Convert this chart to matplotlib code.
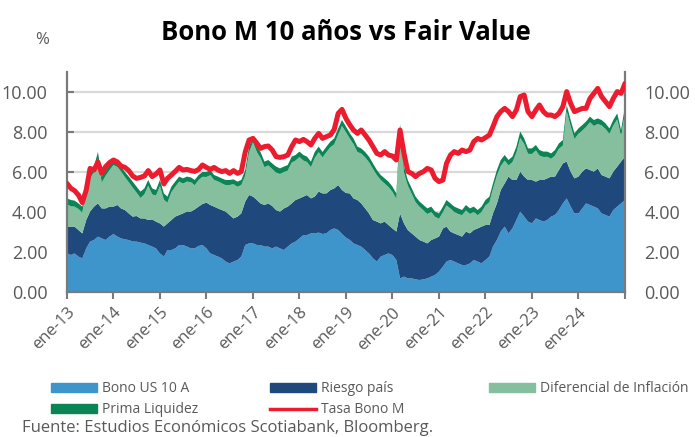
import numpy as np
import pandas as pd
import matplotlib
matplotlib.use("Agg")
import matplotlib.pyplot as plt
from matplotlib.patches import Patch
from matplotlib.lines import Line2D
from matplotlib.transforms import ScaledTranslation

plt.rcParams['font.family'] = ['Open Sans', 'DejaVu Sans']

# ---------------- data (monthly) ----------------
fechas = pd.date_range('2013-01-01', periods=145, freq='MS')

# top of light-blue area = Bono US 10 A
bono_us_10a = [
    1.93, 1.85, 1.93, 1.77, 1.68, 2.18, 2.52, 2.60, 2.77, 2.68, 2.60, 2.77, 2.90,
    2.77, 2.68, 2.63, 2.60, 2.52, 2.52, 2.47, 2.43, 2.35, 2.27, 2.18, 1.93,
    1.77, 2.10, 2.10, 2.18, 2.35, 2.35, 2.27, 2.18, 2.18, 2.30, 2.35, 2.18,
    1.93, 1.85, 1.77, 1.68, 1.52, 1.43, 1.52, 1.60, 1.77, 2.35, 2.43, 2.43,
    2.35, 2.35, 2.27, 2.27, 2.18, 2.27, 2.18, 2.10, 2.27, 2.43, 2.52, 2.68,
    2.85, 2.85, 2.93, 2.93, 2.97, 2.90, 2.93, 3.10, 3.18, 3.10, 2.90, 2.72,
    2.60, 2.43, 2.35, 2.27, 2.10, 1.93, 1.68, 1.52, 1.77, 1.85, 1.93, 1.85,
    1.60, 0.68, 0.77, 0.68, 0.68, 0.63, 0.60, 0.63, 0.68, 0.77, 0.85, 1.02,
    1.27, 1.52, 1.60, 1.52, 1.43, 1.35, 1.35, 1.43, 1.60, 1.52, 1.43, 1.60,
    1.77, 2.27, 2.60, 3.02, 3.27, 2.93, 3.18, 3.60, 4.02, 3.77, 3.52, 3.43,
    3.68, 3.60, 3.52, 3.60, 3.77, 3.85, 4.10, 4.43, 4.68, 4.27, 3.93, 3.93,
    4.18, 4.43, 4.35, 4.27, 4.18, 3.93, 3.85, 3.77, 4.10, 4.27, 4.43, 4.60,
]

# top of navy area = Bono US + Riesgo país
tope_riesgo_pais = [
    3.27, 3.27, 3.27, 3.10, 2.93, 3.60, 4.02, 4.27, 4.43, 4.18, 4.18, 4.27, 4.27,
    4.35, 4.18, 4.10, 3.93, 3.77, 3.80, 3.68, 3.68, 3.60, 3.63, 3.52, 3.43,
    3.27, 3.43, 3.60, 3.77, 3.85, 3.93, 4.02, 4.02, 4.13, 4.27, 4.40, 4.47,
    4.35, 4.27, 4.18, 4.10, 4.02, 3.85, 3.68, 3.77, 3.93, 4.52, 4.85, 4.77,
    4.60, 4.43, 4.35, 4.43, 4.30, 4.10, 4.02, 4.18, 4.27, 4.43, 4.60, 4.68,
    4.77, 4.85, 4.68, 4.77, 5.02, 4.93, 4.93, 5.10, 5.18, 5.35, 5.10, 4.95,
    4.93, 4.68, 4.60, 4.43, 4.18, 3.93, 3.60, 3.52, 3.43, 3.52, 3.35, 3.18,
    3.02, 3.93, 3.43, 3.10, 2.93, 2.77, 2.60, 2.52, 2.43, 2.60, 2.68, 2.77,
    3.18, 3.27, 3.02, 2.93, 2.85, 2.77, 3.02, 2.93, 3.10, 3.18, 3.27, 3.35,
    3.35, 3.93, 4.43, 5.10, 5.43, 5.77, 5.60, 5.60, 6.02, 5.77, 5.60, 5.60,
    5.52, 5.60, 5.60, 5.68, 5.77, 5.77, 6.10, 6.43, 6.52, 6.02, 5.68, 5.77,
    6.02, 6.18, 6.10, 6.02, 6.18, 5.85, 5.77, 5.68, 6.02, 6.27, 6.52, 6.77,
]

# top of the whole stack (incl. Prima Liquidez)
tope_total = [
    4.68, 4.60, 4.57, 4.43, 4.27, 5.43, 6.00, 6.27, 7.00, 5.77, 6.10, 6.35, 6.60,
    6.50, 6.27, 6.00, 5.77, 5.52, 5.27, 5.02, 5.18, 5.60, 5.18, 5.10, 5.60,
    4.93, 4.77, 5.27, 5.52, 5.77, 5.68, 5.77, 5.73, 5.60, 5.85, 6.00, 6.00,
    6.10, 5.85, 5.77, 5.68, 5.60, 5.60, 5.63, 5.52, 5.60, 6.10, 7.27, 7.77,
    7.27, 7.00, 6.52, 6.60, 6.43, 6.27, 6.18, 6.27, 6.35, 6.77, 6.85, 7.02,
    6.85, 6.77, 6.52, 7.00, 7.27, 7.00, 7.27, 7.52, 7.68, 8.18, 8.60, 8.27,
    7.93, 7.68, 7.27, 7.18, 7.00, 6.77, 6.43, 6.10, 5.85, 5.68, 5.52, 5.27,
    4.93, 8.40, 6.27, 5.60, 5.18, 4.77, 4.52, 4.35, 4.18, 4.27, 4.02, 3.93,
    4.27, 4.60, 4.43, 4.27, 4.18, 4.10, 4.35, 4.18, 4.27, 4.10, 4.27, 4.60,
    4.77, 5.43, 6.10, 6.60, 6.85, 6.60, 6.77, 7.27, 8.02, 7.68, 7.18, 7.18,
    7.35, 7.10, 7.02, 7.02, 6.93, 7.10, 7.43, 7.60, 9.35, 8.60, 7.93, 8.18,
    8.35, 8.52, 8.77, 8.60, 8.68, 8.60, 8.43, 8.18, 8.60, 8.93, 8.10, 9.27,
]

prima_liquidez = [
    0.30, 0.32, 0.30, 0.28, 0.30, 0.35, 0.30, 0.28, 0.35, 0.30, 0.28, 0.26, 0.25,
    0.25, 0.24, 0.26, 0.28, 0.30, 0.30, 0.32, 0.30, 0.28, 0.30, 0.28, 0.30,
    0.32, 0.30, 0.28, 0.26, 0.25, 0.26, 0.25, 0.24, 0.26, 0.25, 0.24, 0.25,
    0.26, 0.25, 0.24, 0.25, 0.26, 0.25, 0.24, 0.26, 0.25, 0.28, 0.30, 0.28,
    0.28, 0.30, 0.28, 0.27, 0.28, 0.30, 0.28, 0.27, 0.28, 0.30, 0.28, 0.27,
    0.28, 0.27, 0.28, 0.30, 0.28, 0.27, 0.28, 0.28, 0.30, 0.32, 0.30, 0.28,
    0.27, 0.28, 0.27, 0.26, 0.27, 0.28, 0.27, 0.26, 0.25, 0.26, 0.27, 0.26,
    0.27, 0.35, 0.30, 0.28, 0.27, 0.28, 0.26, 0.27, 0.28, 0.27, 0.26, 0.27,
    0.28, 0.27, 0.26, 0.27, 0.28, 0.26, 0.27, 0.28, 0.27, 0.26, 0.27, 0.28,
    0.28, 0.27, 0.28, 0.30, 0.28, 0.27, 0.28, 0.30, 0.32, 0.28, 0.27, 0.28,
    0.27, 0.28, 0.27, 0.26, 0.27, 0.28, 0.27, 0.28, 0.32, 0.30, 0.28, 0.27,
    0.28, 0.27, 0.28, 0.30, 0.28, 0.27, 0.28, 0.27, 0.28, 0.30, 0.28, 0.30,
]

tasa_bono_m = [
    5.43, 5.18, 5.07, 4.85, 4.47, 5.10, 6.18, 6.10, 6.50, 5.93, 6.27, 6.47, 6.60,
    6.50, 6.30, 6.23, 6.07, 5.80, 5.68, 5.73, 5.80, 6.07, 5.77, 5.90, 6.10,
    5.40, 5.68, 5.85, 6.03, 6.23, 6.10, 6.13, 6.07, 6.03, 6.13, 6.35, 6.23,
    6.13, 6.23, 6.10, 6.02, 6.07, 5.93, 6.07, 5.93, 6.02, 7.00, 7.60, 7.68,
    7.43, 7.18, 7.27, 7.30, 7.10, 6.77, 6.73, 6.77, 6.85, 7.27, 7.60, 7.52,
    7.63, 7.52, 7.35, 7.68, 7.93, 7.68, 7.77, 7.85, 8.13, 8.93, 9.13, 8.68,
    8.35, 8.10, 7.93, 8.10, 7.85, 7.60, 7.27, 6.93, 6.85, 7.02, 6.85, 6.80,
    6.60, 8.10, 6.93, 6.02, 5.93, 5.77, 5.93, 6.02, 6.18, 6.10, 5.68, 5.52,
    5.60, 6.43, 6.85, 7.02, 6.93, 7.10, 7.02, 7.10, 7.52, 7.68, 7.60, 7.72,
    7.85, 8.27, 8.77, 9.02, 9.18, 9.02, 8.77, 9.10, 9.77, 9.85, 9.02, 8.77,
    9.10, 9.35, 9.02, 8.85, 8.85, 8.77, 8.93, 9.27, 10.02, 9.43, 9.02, 9.10,
    9.18, 9.18, 9.68, 9.93, 10.18, 9.77, 9.52, 9.27, 9.68, 10.02, 9.93, 10.43,
]

etiquetas_x = ['ene-13', 'ene-14', 'ene-15', 'ene-16', 'ene-17', 'ene-18',
               'ene-19', 'ene-20', 'ene-21', 'ene-22', 'ene-23', 'ene-24', '']
series_nombres = ['Bono US 10 A', 'Riesgo país', 'Diferencial de Inflación',
                  'Prima Liquidez', 'Tasa Bono M']

# components of the stack
bono = np.array(bono_us_10a)
riesgo = np.array(tope_riesgo_pais) - bono
liquidez = np.array(prima_liquidez)
diferencial = np.array(tope_total) - liquidez - np.array(tope_riesgo_pais)

# ---------------- style ----------------
c_bono = '#3D95CB'
c_riesgo = '#1F487C'
c_dif = '#86BF9D'
c_liq = '#0C8556'
c_tasa = '#EC1C2E'
gris = '#595959'
gris_eje = '#7A7A7A'

fig = plt.figure(figsize=(6.95, 4.37), dpi=100)
ax = fig.add_axes([67/695, 1-292/437, (625-67)/695, (292-72)/437])

ax.stackplot(fechas, bono, riesgo, diferencial, liquidez,
             colors=[c_bono, c_riesgo, c_dif, c_liq], linewidth=0, zorder=2)
ax.plot(fechas, tasa_bono_m, color=c_tasa, lw=3.6, zorder=3,
        solid_joinstyle='round', solid_capstyle='round')

ax.set_ylim(0, 11)
ax.set_xlim(fechas[0], fechas[-1])
ax.set_yticks(np.arange(0, 11, 2))
ax.set_yticklabels([f'{v:.2f}' for v in np.arange(0, 11, 2)])
ax.grid(axis='y', color='#D9D9D9', lw=1.6, zorder=0)
ax.set_axisbelow(True)

xt = pd.date_range('2013-01-01', '2025-01-01', freq='YS')
ax.set_xticks(xt)
ax.set_xticklabels(etiquetas_x, rotation=45, ha='right', va='top',
                   rotation_mode='anchor')
off = ScaledTranslation(6/100, -4/100, fig.dpi_scale_trans)
for lab in ax.get_xticklabels():
    lab.set_transform(lab.get_transform() + off)

ax.tick_params(axis='y', left=True, right=True, labelleft=True, labelright=True,
               direction='in', length=5, width=1.5, color=gris_eje,
               labelcolor=gris, labelsize=13, pad=14)
ax.tick_params(axis='x', direction='out', length=5, width=1.5, color=gris_eje,
               labelcolor=gris, labelsize=12, pad=4)

for s in ['left', 'right', 'bottom']:
    ax.spines[s].set_color(gris_eje)
    ax.spines[s].set_linewidth(1.6)
ax.spines['top'].set_visible(False)

fig.text(0.497, 1-33/437, 'Bono M 10 años vs Fair Value', ha='center', va='center',
         fontsize=18.5, fontweight='bold', color='black')
fig.text(42/695, 1-40/437, '%', ha='center', va='center', fontsize=12, color=gris)

# legend (three columns)
h_bono = Patch(color=c_bono)
h_riesgo = Patch(color=c_riesgo)
h_dif = Patch(color=c_dif)
h_liq = Patch(color=c_liq)
h_tasa = Line2D([], [], color=c_tasa, lw=2.5)

common = dict(loc='upper left', frameon=False, fontsize=10, handlelength=3.3,
              handleheight=0.6, handletextpad=0.4, borderpad=0, borderaxespad=0,
              labelspacing=0.45, labelcolor=gris)
fig.legend([h_bono, h_liq], [series_nombres[0], series_nombres[3]],
           bbox_to_anchor=(51/695, 1-381/437), **common)
fig.legend([h_riesgo, h_tasa], [series_nombres[1], series_nombres[4]],
           bbox_to_anchor=(270/695, 1-381/437), **common)
fig.legend([h_dif], [series_nombres[2]],
           bbox_to_anchor=(489/695, 1-381/437), **common)

fig.text(22/695, 1-432/437, 'Fuente: Estudios Económicos Scotiabank, Bloomberg.',
         ha='left', va='baseline', fontsize=12, color=gris)

fig.savefig('out.png', dpi=100)
